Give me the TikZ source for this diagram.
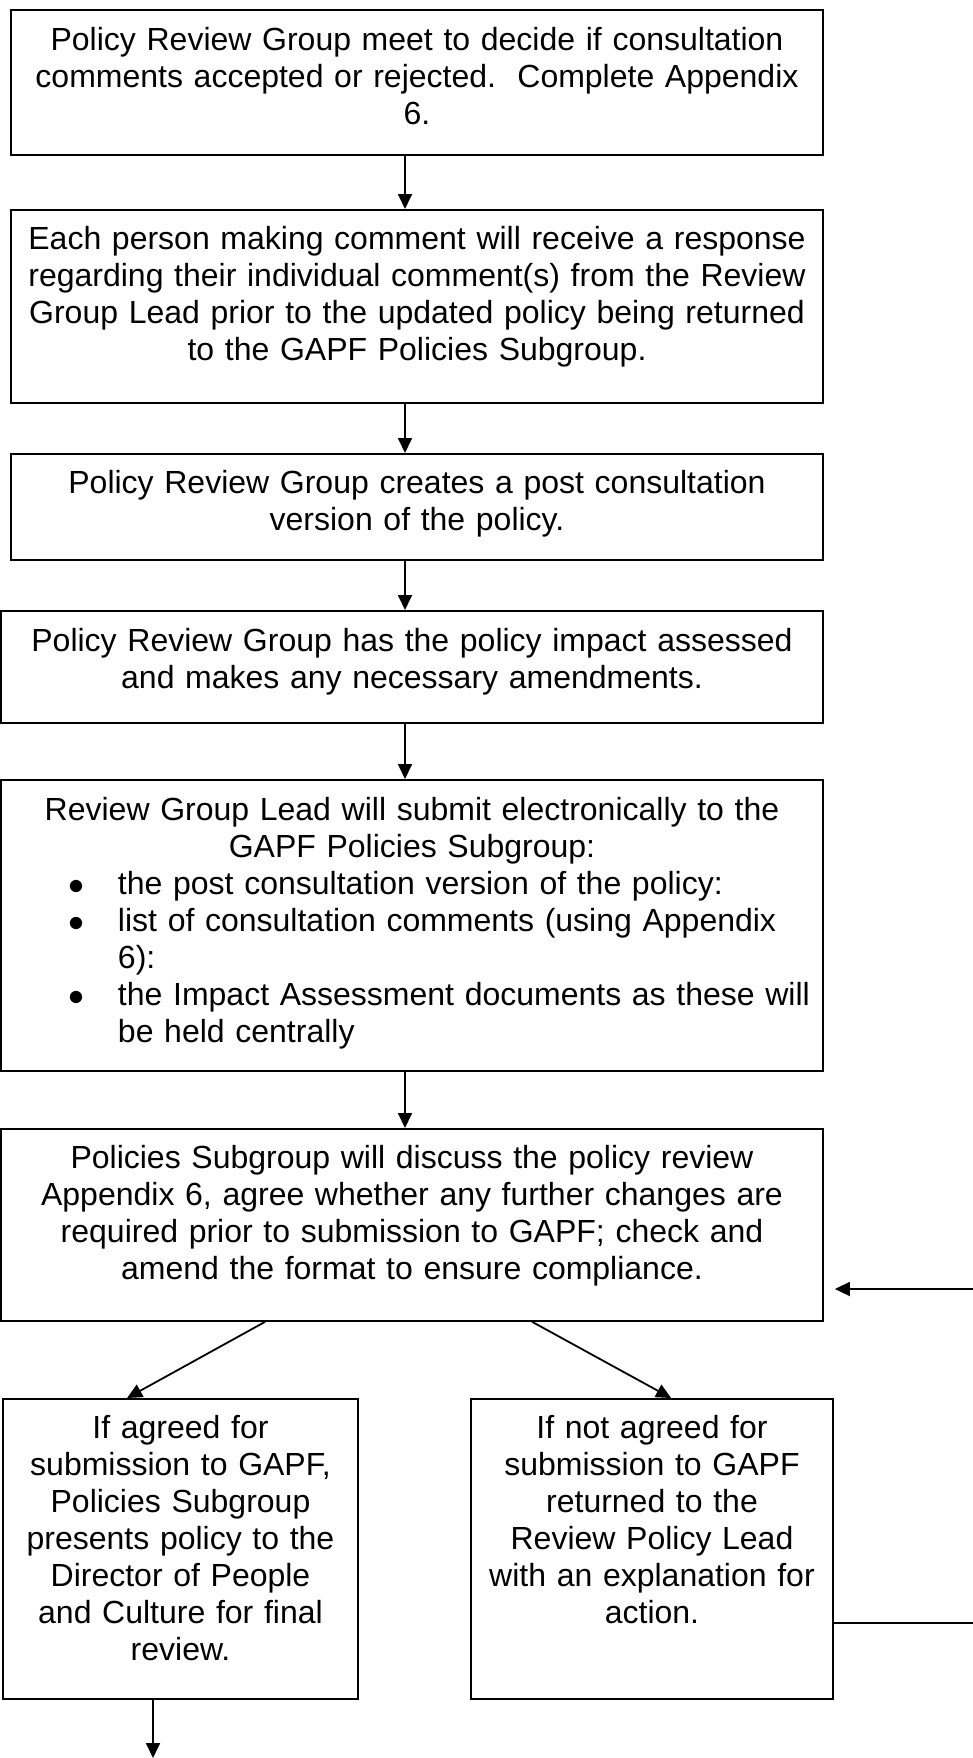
\RequirePackage{fix-cm}
\documentclass[tikz,border=0pt]{standalone}
\usepackage{fontspec}
\setmainfont{Liberation Sans}
\usetikzlibrary{arrows.meta,calc}
\newcommand\bitem[1]{\leavevmode\hbox to 822pt{\hbox to 117pt{\hskip 60pt\hbox to 32pt{\hss$\bullet$\hss}\hss}#1\hss}}
\newcommand\bcont[1]{\leavevmode\hbox to 822pt{\hskip 117pt #1\hss}}
\begin{document}
\begin{tikzpicture}[x=1pt,y=-1pt,
  box/.style={draw, line width=1.8pt, inner sep=0pt, anchor=north, align=center,
              font=\fontsize{32}{37}\selectfont},
  arr/.style={line width=1.8pt, -{Triangle[length=15pt,width=14pt]}},
  plain/.style={line width=1.8pt}]
\useasboundingbox (0,0) rectangle (973,1758);

\node[box, text width=812pt, text height=41pt, text depth=104pt] (b1) at (417,9)
  {Policy Review Group meet to decide if consultation\\
   comments accepted or rejected.\ \ Complete Appendix\\
   6.};
\node[box, text width=812pt, text height=40pt, text depth=153pt] (b2) at (417,209)
  {Each person making comment will receive a response\\
   regarding their individual comment(s) from the Review\\
   Group Lead prior to the updated policy being returned\\
   to the GAPF Policies Subgroup.};
\node[box, text width=812pt, text height=40pt, text depth=66pt] (b3) at (417,453)
  {Policy Review Group creates a post consultation\\
   version of the policy.};
\node[box, text width=822pt, text height=41pt, text depth=71pt] (b4) at (412,610)
  {Policy Review Group has the policy impact assessed\\
   and makes any necessary amendments.};
\node[box, text width=822pt, text height=41pt, text depth=250pt] (b5) at (412,779)
  {Review Group Lead will submit electronically to the\\
   GAPF Policies Subgroup:\\
   \bitem{the post consultation version of the policy:}\\
   \bitem{list of consultation comments (using Appendix}\\
   \bcont{6):}\\
   \bitem{the Impact Assessment documents as these will}\\
   \bcont{be held centrally}};
\node[box, text width=822pt, text height=40pt, text depth=152pt] (b6) at (412,1128)
  {Policies Subgroup will discuss the policy review\\
   Appendix 6, agree whether any further changes are\\
   required prior to submission to GAPF; check and\\
   amend the format to ensure compliance.};
\node[box, text width=355pt, text height=40pt, text depth=260pt] (bl) at (180.5,1398)
  {If agreed for\\
   submission to GAPF,\\
   Policies Subgroup\\
   presents policy to the\\
   Director of People\\
   and Culture for final\\
   review.};
\node[box, text width=362pt, text height=40pt, text depth=260pt] (br) at (652,1398)
  {If not agreed for\\
   submission to GAPF\\
   returned to the\\
   Review Policy Lead\\
   with an explanation for\\
   action.};

\coordinate (ax) at (405,0);
\coordinate (bend) at (153,1758);
\coordinate (rin) at (973,1289);
\coordinate (rout) at (973,1623);

\draw[arr] (b1.south -| ax) -- (b2.north -| ax);
\draw[arr] (b2.south -| ax) -- (b3.north -| ax);
\draw[arr] (b3.south -| ax) -- (b4.north -| ax);
\draw[arr] (b4.south -| ax) -- (b5.north -| ax);
\draw[arr] (b5.south -| ax) -- (b6.north -| ax);
\draw[arr] ($(b6.south west)+(265,0)$) -- ($(bl.north west)+(125,0)$);
\draw[arr] ($(b6.south west)+(532,0)$) -- ($(br.north west)+(201,0)$);
\draw[arr] (bl.south -| bend) -- (bend);
\draw[arr, shorten >=11pt] (rin) -- (b6.east |- rin);
\draw[plain] (br.east |- rout) -- (rout);
\end{tikzpicture}
\end{document}
